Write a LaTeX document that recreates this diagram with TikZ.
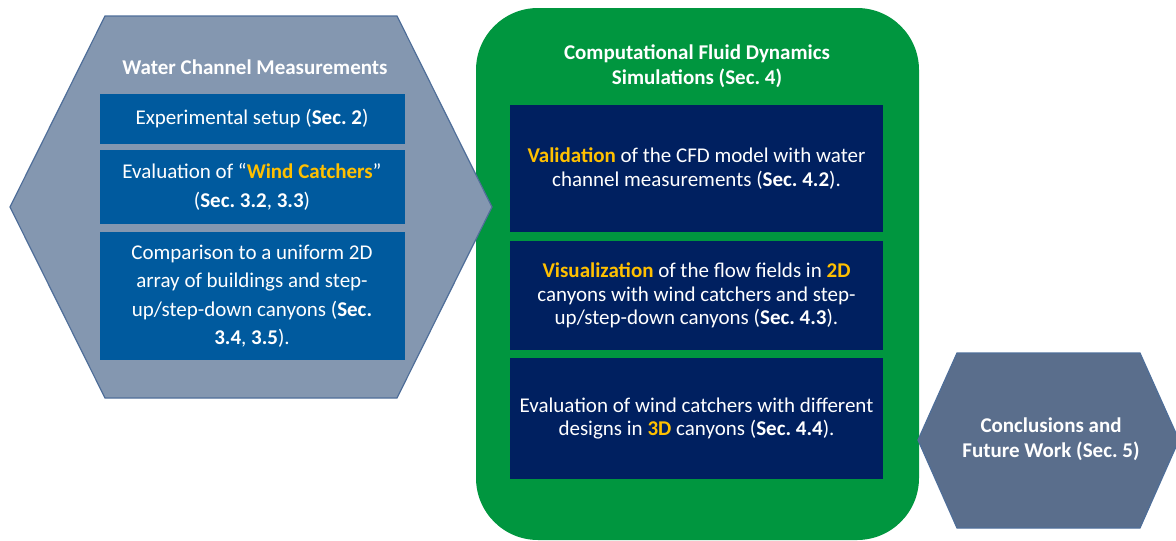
\documentclass[tikz,border=0pt]{standalone}
\usepackage{fontspec}
\setmainfont{Carlito}
\frenchspacing
\definecolor{hexgray}{HTML}{8497B0}
\definecolor{hexline}{HTML}{4F6E99}
\definecolor{boxblue}{HTML}{005A9E}
\definecolor{cfdgreen}{HTML}{00963F}
\definecolor{navy}{HTML}{002060}
\definecolor{gold}{HTML}{FFC000}
\definecolor{slate}{HTML}{5A6E8C}
\newcommand{\hl}[1]{\textbf{\textcolor{gold}{#1}}}
\begin{document}
\begin{tikzpicture}[x=1pt,y=-1pt,
	bluebox/.style={fill=boxblue, text=white, align=center, inner sep=0pt, minimum width=305pt, font=\fontsize{21}{28.5}\selectfont},
	navybox/.style={fill=navy, text=white, align=center, inner sep=0pt, minimum width=373pt, font=\fontsize{21}{23.5}\selectfont},
	title/.style={text=white, align=center, font=\bfseries\fontsize{21}{25.5}\selectfont}]
	\useasboundingbox (0,0) rectangle (1176,541);
	% CFD block
	\fill[cfdgreen, rounded corners=62pt](476,8) rectangle (919,540);
	\node[title] (cfd) at (697,66) {Computational Fluid Dynamics\\Simulations (Sec. 4)};
	\node[navybox, minimum height=127pt] (valid) at (696.5,168.5) {\hl{Validation} of the CFD model with water\\channel measurements (\textbf{Sec. 4.2}).};
	\node[navybox, minimum height=109pt] (visual) at (696.5,295.5) {\hl{Visualization} of the flow fields in \hl{2D}\\canyons with wind catchers and step-\\up/step-down canyons (\textbf{Sec. 4.3}).};
	\node[navybox, minimum height=121pt] (design) at (696.5,418.5) {Evaluation of wind catchers with different\\designs in \hl{3D} canyons (\textbf{Sec. 4.4}).};
	% left hexagon
	\filldraw[fill=hexgray, draw=hexline, line width=1.2pt](105,16)--(397,16)--(492,207)--(397,398)--(105,398)--(10,207)--cycle;
	\node[title] (wcm) at (255,67) {Water Channel Measurements};
	\node[bluebox, minimum height=50pt] (setup) at (252,119) {Experimental setup (\textbf{Sec. 2})};
	\node[bluebox, minimum height=74pt] (catch) at (252,187) {Evaluation of “\hl{Wind Catchers}”\\(\textbf{Sec. 3.2}, \textbf{3.3})};
	\node[bluebox, minimum height=128pt] (compare) at (252,296) {Comparison to a uniform 2D\\array of buildings and step-\\up/step-down canyons (\textbf{Sec.}\\\textbf{3.4}, \textbf{3.5}).};
	% right hexagon
	\filldraw[fill=slate, draw=hexline, line width=1.2pt](957,353)--(1140,353)--(1179,440)--(1140,528)--(957,528)--(918,440)--cycle;
	\node[title] (concl) at (1051,439) {Conclusions and\\Future Work (Sec. 5)};
\end{tikzpicture}
\end{document}
